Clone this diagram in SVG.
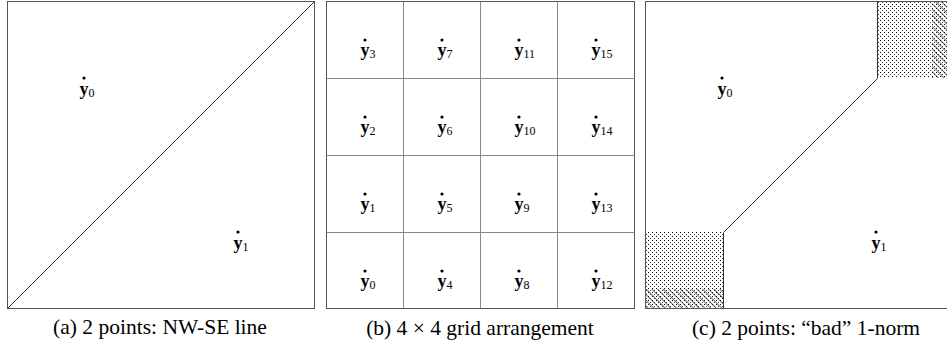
<svg xmlns="http://www.w3.org/2000/svg" width="947" height="352" viewBox="0 0 947 352">
<style>
.box{fill:none;stroke:#555;stroke-width:1}
.grid{fill:none;stroke:#888;stroke-width:1}
.ln{fill:none;stroke:#333;stroke-width:1}
.dot{fill:#000}
.lab{font-family:"Liberation Serif","DejaVu Serif",serif;font-size:18px;font-weight:bold;fill:#000}
.sub{font-size:12px;font-weight:normal}
.cap{font-family:"Liberation Serif","DejaVu Serif",serif;font-size:21.5px;fill:#000;text-anchor:middle}
</style>
<defs>
<pattern id="dots" width="4" height="4" patternUnits="userSpaceOnUse">
<rect x="0" y="0" width="1" height="1" fill="#000"/>
<rect x="2" y="2" width="1" height="1" fill="#444"/>
</pattern>
<pattern id="hatch" width="4" height="4" patternUnits="userSpaceOnUse" patternTransform="rotate(-45)">
<line x1="0" y1="0" x2="0" y2="4" stroke="#111" stroke-width="1.2"/>
</pattern>
</defs>

<g id="panel-a">
<rect class="box" x="7.5" y="1.5" width="307" height="307"/>
<line class="ln" x1="7.5" y1="308.5" x2="314.5" y2="1.5"/>
<g id="a-y0"><circle class="dot" cx="84" cy="78" r="1.6"/><text class="lab" x="79.5" y="95">y<tspan class="sub" dy="2">0</tspan></text></g>
<g id="a-y1"><circle class="dot" cx="238" cy="232" r="1.6"/><text class="lab" x="233.5" y="249">y<tspan class="sub" dy="2">1</tspan></text></g>
<text class="cap" x="160" y="334">(a) 2 points: NW-SE line</text>
</g>

<g id="panel-b">
<rect class="box" x="326.5" y="1.5" width="308" height="307"/>
<g class="grid">
<line x1="403.5" y1="1.5" x2="403.5" y2="308.5"/>
<line x1="480.5" y1="1.5" x2="480.5" y2="308.5"/>
<line x1="557.5" y1="1.5" x2="557.5" y2="308.5"/>
<line x1="326.5" y1="78.5" x2="634.5" y2="78.5"/>
<line x1="326.5" y1="155.5" x2="634.5" y2="155.5"/>
<line x1="326.5" y1="232.5" x2="634.5" y2="232.5"/>
</g>
<g id="b-y0"><circle class="dot" cx="365" cy="271" r="1.6"/><text class="lab" x="360.5" y="287">y<tspan class="sub" dy="2">0</tspan></text></g>
<g id="b-y1"><circle class="dot" cx="365" cy="194" r="1.6"/><text class="lab" x="360.5" y="210">y<tspan class="sub" dy="2">1</tspan></text></g>
<g id="b-y2"><circle class="dot" cx="365" cy="117" r="1.6"/><text class="lab" x="360.5" y="133">y<tspan class="sub" dy="2">2</tspan></text></g>
<g id="b-y3"><circle class="dot" cx="365" cy="40" r="1.6"/><text class="lab" x="360.5" y="56">y<tspan class="sub" dy="2">3</tspan></text></g>
<g id="b-y4"><circle class="dot" cx="442" cy="271" r="1.6"/><text class="lab" x="437.5" y="287">y<tspan class="sub" dy="2">4</tspan></text></g>
<g id="b-y5"><circle class="dot" cx="442" cy="194" r="1.6"/><text class="lab" x="437.5" y="210">y<tspan class="sub" dy="2">5</tspan></text></g>
<g id="b-y6"><circle class="dot" cx="442" cy="117" r="1.6"/><text class="lab" x="437.5" y="133">y<tspan class="sub" dy="2">6</tspan></text></g>
<g id="b-y7"><circle class="dot" cx="442" cy="40" r="1.6"/><text class="lab" x="437.5" y="56">y<tspan class="sub" dy="2">7</tspan></text></g>
<g id="b-y8"><circle class="dot" cx="519" cy="271" r="1.6"/><text class="lab" x="514.5" y="287">y<tspan class="sub" dy="2">8</tspan></text></g>
<g id="b-y9"><circle class="dot" cx="519" cy="194" r="1.6"/><text class="lab" x="514.5" y="210">y<tspan class="sub" dy="2">9</tspan></text></g>
<g id="b-y10"><circle class="dot" cx="519" cy="117" r="1.6"/><text class="lab" x="514.5" y="133">y<tspan class="sub" dy="2">10</tspan></text></g>
<g id="b-y11"><circle class="dot" cx="519" cy="40" r="1.6"/><text class="lab" x="514.5" y="56">y<tspan class="sub" dy="2">11</tspan></text></g>
<g id="b-y12"><circle class="dot" cx="596" cy="271" r="1.6"/><text class="lab" x="591.5" y="287">y<tspan class="sub" dy="2">12</tspan></text></g>
<g id="b-y13"><circle class="dot" cx="596" cy="194" r="1.6"/><text class="lab" x="591.5" y="210">y<tspan class="sub" dy="2">13</tspan></text></g>
<g id="b-y14"><circle class="dot" cx="596" cy="117" r="1.6"/><text class="lab" x="591.5" y="133">y<tspan class="sub" dy="2">14</tspan></text></g>
<g id="b-y15"><circle class="dot" cx="596" cy="40" r="1.6"/><text class="lab" x="591.5" y="56">y<tspan class="sub" dy="2">15</tspan></text></g>
<text class="cap" x="480" y="335">(b) 4 × 4 grid arrangement</text>
</g>

<g id="panel-c">
<rect x="646" y="232" width="77" height="77" fill="url(#dots)"/>
<rect x="646" y="289" width="77" height="20" fill="url(#hatch)"/>
<rect x="877" y="1" width="77" height="77" fill="url(#dots)"/>
<rect x="932" y="1" width="22" height="77" fill="url(#hatch)"/>
<rect class="box" x="645.5" y="1.5" width="308" height="307"/>
<polyline class="ln" points="723.5,308.5 723.5,232.5 877.5,78.5 877.5,1.5"/>
<g id="c-y0"><circle class="dot" cx="722" cy="78" r="1.6"/><text class="lab" x="717.5" y="95">y<tspan class="sub" dy="2">0</tspan></text></g>
<g id="c-y1"><circle class="dot" cx="876" cy="232" r="1.6"/><text class="lab" x="871.5" y="249">y<tspan class="sub" dy="2">1</tspan></text></g>
<text class="cap" x="806" y="335">(c) 2 points: “bad” 1-norm</text>
</g>
</svg>
